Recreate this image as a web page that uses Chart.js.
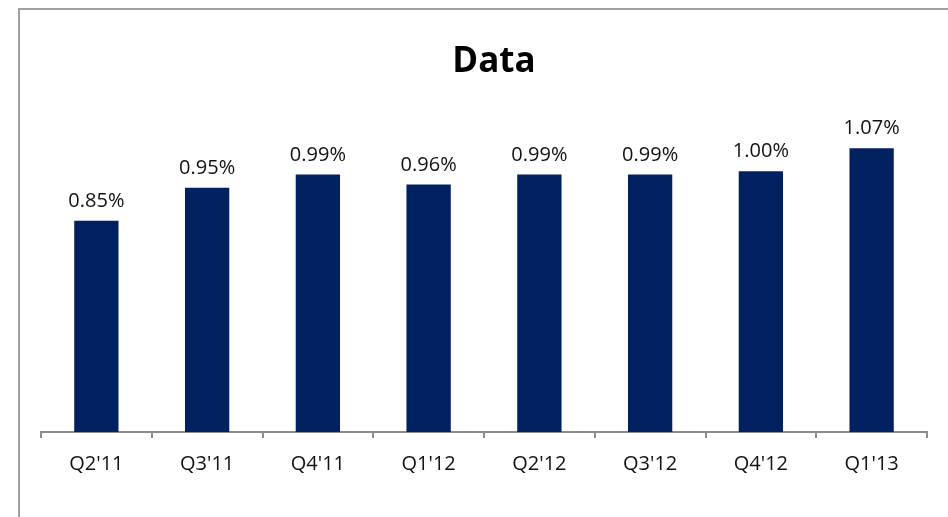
<!DOCTYPE html>
<html>
<head>
<meta charset="utf-8">
<script src="https://cdn.jsdelivr.net/npm/chart.js@4/dist/chart.umd.min.js"></script>
<style>
  html, body { margin: 0; padding: 0; background: #fff; overflow: hidden; width: 948px; height: 517px; }
  #frame { position: absolute; left: 18px; top: 8px; width: 1000px; height: 600px; border: 2px solid #a0a0a0; box-sizing: border-box; }
  #box { position: absolute; left: 0; top: 0; width: 988px; height: 517px; }
</style>
</head>
<body>
<div id="frame"></div>
<div id="box"><canvas id="chart"></canvas></div>
<script>
  // quarters and rate values (%)
  var quarters = ["Q2'11", "Q3'11", "Q4'11", "Q1'12", "Q2'12", "Q3'12", "Q4'12", "Q1'13"];
  var rates = [0.85, 0.95, 0.99, 0.96, 0.99, 0.99, 1.00, 1.07];

  var navy = '#00205f';
  var axisGray = '#8c8c8c';
  var font = "'Open Sans', 'Noto Sans', sans-serif";

  // value labels above each bar
  var valueLabels = {
    id: 'valueLabels',
    afterDatasetsDraw: function (chart) {
      var ctx = chart.ctx;
      var meta = chart.getDatasetMeta(0);
      ctx.save();
      ctx.font = '20px ' + font;
      ctx.fillStyle = '#111';
      ctx.textAlign = 'center';
      ctx.textBaseline = 'alphabetic';
      meta.data.forEach(function (bar, i) {
        ctx.fillText(rates[i].toFixed(2) + '%', bar.x, bar.y - 14);
      });
      ctx.restore();
    }
  };

  // invisible side axes only reserve room, so the title stays centred on the whole frame
  function spacer(width) {
    return function (scale) { scale.width = width; };
  }

  new Chart(document.getElementById('chart'), {
    type: 'bar',
    data: {
      labels: quarters,
      datasets: [{
        data: rates,
        backgroundColor: navy,
        borderWidth: 0,
        barPercentage: 0.4,
        categoryPercentage: 1
      }]
    },
    options: {
      responsive: true,
      maintainAspectRatio: false,
      animation: false,
      layout: { padding: 0 },
      plugins: {
        legend: { display: false },
        tooltip: { enabled: false },
        title: {
          display: true,
          text: 'Data',
          color: '#000',
          font: { family: font, size: 35, weight: 'bold', lineHeight: 1.2 },
          padding: { top: 41, bottom: 19 }
        }
      },
      scales: {
        x: {
          offset: true,
          grid: { display: true, drawOnChartArea: false, drawTicks: true, tickLength: 6, color: axisGray, lineWidth: 2, offset: true },
          border: { display: true, color: axisGray, width: 2 },
          ticks: { color: '#111', padding: 14, font: { family: font, size: 20 }, maxRotation: 0 },
          afterFit: function (scale) { scale.height = 85; }
        },
        y: {
          position: 'left',
          min: 0.21,
          max: 1.21,
          grid: { display: false },
          border: { display: false },
          ticks: { display: false },
          afterFit: spacer(41)
        },
        yPad: {
          position: 'right',
          grid: { display: false },
          border: { display: false },
          ticks: { display: false },
          afterFit: spacer(61)
        }
      }
    },
    plugins: [valueLabels]
  });
</script>
</body>
</html>
